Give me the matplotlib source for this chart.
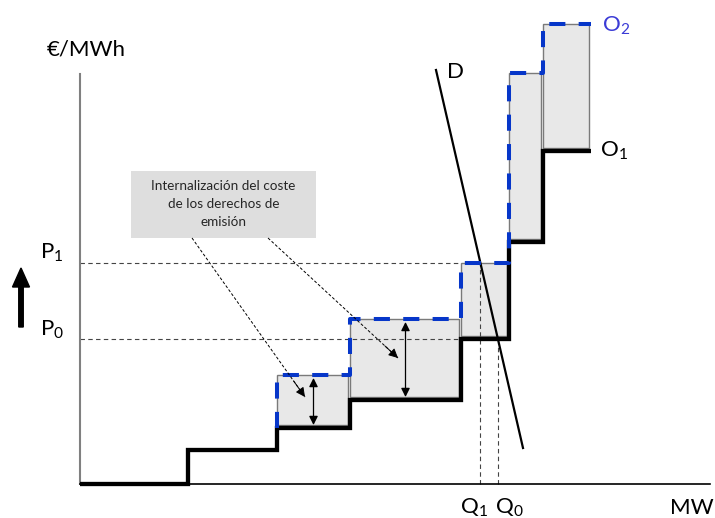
import numpy as np
import matplotlib.pyplot as plt
from matplotlib.patches import Rectangle

# escalones de la oferta (MW acumulados) y precios (€/MWh), unidades arbitrarias
q_edges = [0, 108, 197, 270, 381, 429, 463, 511]
price_o1 = [0, 34, 56, 84, 145, 242, 333]
price_o2 = [109, 165, 221, 411, 460]   # desde el tercer escalón
first_o2 = 2

# demanda D
d_q = [356, 443]
d_p = [414, 36]

plt.rcParams['font.family'] = ['Lato', 'DejaVu Sans']

fig = plt.figure(figsize=(7.15, 5.18), dpi=100)
ax = fig.add_axes([0, 0, 1, 1])
ax.set_xlim(-80, 635)
ax.set_ylim(-34, 484)
ax.axis('off')

blue = '#0636c9'

# cajas grises (internalización)
for i, p2 in enumerate(price_o2):
    k = first_o2 + i
    x0, x1 = q_edges[k], q_edges[k + 1]
    y0 = price_o1[k]
    ax.add_patch(Rectangle((x0, y0 + 3), x1 - x0 - 2, p2 - y0 - 3,
                           facecolor='#e8e8e8', edgecolor='#7a7a7a', lw=1, zorder=1))

# precios y cantidades de equilibrio
P0 = price_o1[4]
P1 = price_o2[2]
slope = (d_q[1] - d_q[0]) / (d_p[1] - d_p[0])
Q0 = d_q[0] + (P0 - d_p[0]) * slope
Q1 = d_q[0] + (P1 - d_p[0]) * slope

dash_kw = dict(color='#444444', lw=0.8, ls=(0, (4, 3)), zorder=2)
ax.plot([0, q_edges[4]], [P1, P1], **dash_kw)
ax.plot([0, q_edges[4]], [P0, P0], **dash_kw)
ax.plot([Q1, Q1], [0, P1], **dash_kw)
ax.plot([Q0, Q0], [0, P0], **dash_kw)

# ejes
ax.plot([0, 0], [0, 410], color='#808080', lw=1.5, zorder=2)
ax.plot([0, 630], [0, 0], color='black', lw=1.2, zorder=2)

# oferta O1
ax.stairs(price_o1, q_edges, baseline=None, color='black', lw=3.1, zorder=3)

# oferta O2
xs = [q_edges[first_o2]]
ys = [price_o1[first_o2]]
for i, p2 in enumerate(price_o2):
    k = first_o2 + i
    xs += [q_edges[k], q_edges[k + 1]]
    ys += [p2, p2]
ax.plot(xs, ys, color=blue, lw=2.9, ls=(0, (4, 3.3)), zorder=4)

# demanda
ax.plot(d_q, d_p, color='black', lw=1.6, zorder=3)

# flechas dobles dentro de las cajas
for k in [2, 3]:
    xm = (q_edges[k] + q_edges[k + 1]) / 2
    ax.annotate('', xy=(xm, price_o1[k] + 3), xytext=(xm, price_o2[k - first_o2] - 3),
                arrowprops=dict(arrowstyle='<|-|>', color='black', lw=0.9,
                                mutation_scale=13, shrinkA=0, shrinkB=0), zorder=5)

# cuadro de texto
ax.add_patch(Rectangle((51, 246), 185, 67, facecolor='#dedede', edgecolor='none', zorder=1))
ax.text(143.5, 279.5, 'Internalización del coste\nde los derechos de\nemisión',
        ha='center', va='center', fontsize=9.7, color='#262626', linespacing=1.6, zorder=6)
for start, end in [((112, 246), (225, 87)), ((188, 246), (318, 126))]:
    ax.plot([start[0], end[0]], [start[1], end[1]], color='black', lw=0.7,
            ls=(0, (3, 2)), zorder=5)
    t = 0.9
    mid = (start[0] + t * (end[0] - start[0]), start[1] + t * (end[1] - start[1]))
    ax.annotate('', xy=end, xytext=mid,
                arrowprops=dict(arrowstyle='-|>', color='black', lw=0.7,
                                mutation_scale=14, shrinkA=0, shrinkB=0), zorder=5)

# flecha de subida de precio
ax.arrow(-59, 157, 0, 40, width=4.5, head_width=17, head_length=19,
         length_includes_head=False, color='black', zorder=5)

# etiquetas
fs = 16
ax.text(-33, 429, '€/MWh', fontsize=fs, va='baseline')
ax.text(590, -30, 'MW', fontsize=fs, va='baseline')
ax.text(-40, P1 + 4, r'$\mathregular{P_1}$', fontsize=fs, va='baseline')
ax.text(-40, P0 + 3, r'$\mathregular{P_0}$', fontsize=fs, va='baseline')
ax.text(Q1 - 20, -30, r'$\mathregular{Q_1}$', fontsize=fs, va='baseline')
ax.text(Q0 - 3, -30, r'$\mathregular{Q_0}$', fontsize=fs, va='baseline')
ax.text(367, 406, 'D', fontsize=fs, va='baseline')
ax.text(520, 327, r'$\mathregular{O_1}$', fontsize=fs, va='baseline')
ax.text(522, 452, r'$\mathregular{O_2}$', fontsize=fs, va='baseline', color='#3b3bd6')

fig.savefig('out.png', dpi=100)
